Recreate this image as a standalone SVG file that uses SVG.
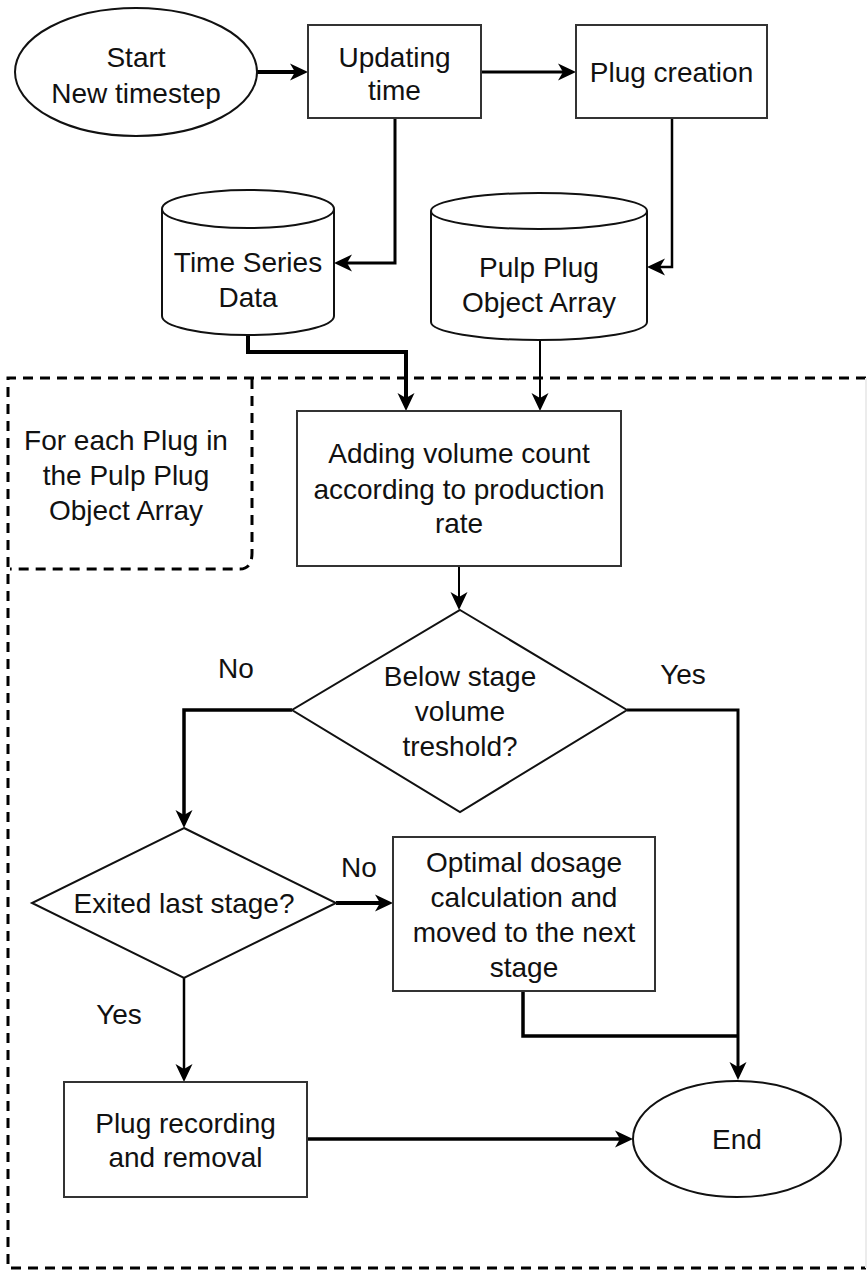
<svg xmlns="http://www.w3.org/2000/svg" width="868" height="1272" viewBox="0 0 868 1272">
<defs>
<style>
.box{fill:#fff;stroke:#333;stroke-width:2}
.ell{fill:#fff;stroke:#111;stroke-width:2}
.t{font-family:"Liberation Sans",Arial,Helvetica,sans-serif;font-size:28px;fill:#111;text-anchor:middle}
.c{fill:none;stroke:#000;stroke-linejoin:miter}
.dash{fill:none;stroke:#000;stroke-width:3;stroke-dasharray:10 7}
</style>
<marker id="arr" viewBox="0 0 18 18" refX="6" refY="9" markerWidth="18" markerHeight="18" markerUnits="userSpaceOnUse" orient="auto">
<path d="M0,0.5 L18,9 L0,17.5 L5,9 Z" fill="#000"/>
</marker>
</defs>
<rect width="868" height="1272" fill="#fff"/>

<g id="loop-frame">
<path class="dash" d="M866,378 H8 V1268 H866"/>
<line x1="866" y1="378" x2="866" y2="1268" stroke="#ececec" stroke-width="2"/>
</g>
<g id="loop-label">
<path class="dash" d="M252,379 V553 Q252,569 240,569 H10"/>
<text class="t" x="126" y="450">For each Plug in</text>
<text class="t" x="126" y="485">the Pulp Plug</text>
<text class="t" x="126" y="520">Object Array</text>
</g>

<g id="connectors">
<path class="c" stroke-width="4" d="M257,72 H296" marker-end="url(#arr)"/>
<path class="c" stroke-width="3" d="M481,72 H564" marker-end="url(#arr)"/>
<path class="c" stroke-width="3" d="M395,118 V263 H346" marker-end="url(#arr)"/>
<path class="c" stroke-width="2.5" d="M672,118 V267 H659" marker-end="url(#arr)"/>
<path class="c" stroke-width="4" d="M248,335 V352 H406 V399" marker-end="url(#arr)"/>
<path class="c" stroke-width="2" d="M540,340 V399" marker-end="url(#arr)"/>
<path class="c" stroke-width="2" d="M459,566 V598" marker-end="url(#arr)"/>
<path class="c" stroke-width="3.5" d="M292,710 H184 V816" marker-end="url(#arr)"/>
<path class="c" stroke-width="3" d="M627,710 H738 V1068" marker-end="url(#arr)"/>
<path class="c" stroke-width="4" d="M336,903 H381" marker-end="url(#arr)"/>
<path class="c" stroke-width="2.5" d="M184,978 V1070" marker-end="url(#arr)"/>
<path class="c" stroke-width="3.5" d="M523,991 V1036 H738"/>
<path class="c" stroke-width="3.5" d="M307,1139 H621" marker-end="url(#arr)"/>
</g>

<g id="start">
<ellipse class="ell" cx="136" cy="72" rx="121" ry="64"/>
<text class="t" x="136" y="67">Start</text>
<text class="t" x="136" y="103">New timestep</text>
</g>
<g id="updating-time">
<rect class="box" x="308" y="25" width="173" height="93"/>
<text class="t" x="394.5" y="67">Updating</text>
<text class="t" x="394.5" y="100">time</text>
</g>
<g id="plug-creation">
<rect class="box" x="576" y="25" width="191" height="93"/>
<text class="t" x="671.5" y="82">Plug creation</text>
</g>
<g id="time-series">
<path class="ell" d="M162,209 A86,19 0 0 1 334,209 L334,316 A86,19 0 0 1 162,316 Z"/>
<path class="ell" fill="none" d="M162,209 A86,19 0 0 0 334,209"/>
<text class="t" x="248" y="272">Time Series</text>
<text class="t" x="248" y="307">Data</text>
</g>
<g id="pulp-plug-array">
<path class="ell" d="M431,211 A108,18 0 0 1 647,211 L647,322 A108,18 0 0 1 431,322 Z"/>
<path class="ell" fill="none" d="M431,211 A108,18 0 0 0 647,211"/>
<text class="t" x="539" y="277">Pulp Plug</text>
<text class="t" x="539" y="312">Object Array</text>
</g>
<g id="adding-volume">
<rect class="box" x="297" y="411" width="324" height="155"/>
<text class="t" x="459" y="463">Adding volume count</text>
<text class="t" x="459" y="499">according to production</text>
<text class="t" x="459" y="533">rate</text>
</g>
<g id="below-threshold">
<path class="ell" d="M460,610 L627,710 L460,812 L292,710 Z"/>
<text class="t" x="460" y="686">Below stage</text>
<text class="t" x="460" y="721">volume</text>
<text class="t" x="460" y="756">treshold?</text>
</g>
<g id="labels">
<text class="t" x="236" y="678">No</text>
<text class="t" x="683" y="684">Yes</text>
<text class="t" x="359" y="877">No</text>
<text class="t" x="119" y="1024">Yes</text>
</g>
<g id="exited-last">
<path class="ell" d="M184,828 L336,903 L184,978 L32,903 Z"/>
<text class="t" x="184" y="913">Exited last stage?</text>
</g>
<g id="optimal-dosage">
<rect class="box" x="393" y="837" width="262" height="154"/>
<text class="t" x="524" y="872">Optimal dosage</text>
<text class="t" x="524" y="907">calculation and</text>
<text class="t" x="524" y="942">moved to the next</text>
<text class="t" x="524" y="977">stage</text>
</g>
<g id="plug-recording">
<rect class="box" x="64" y="1082" width="243" height="115"/>
<text class="t" x="185.5" y="1133">Plug recording</text>
<text class="t" x="185.5" y="1167">and removal</text>
</g>
<g id="end">
<ellipse class="ell" cx="737" cy="1139" rx="104" ry="58"/>
<text class="t" x="737" y="1149">End</text>
</g>
</svg>
